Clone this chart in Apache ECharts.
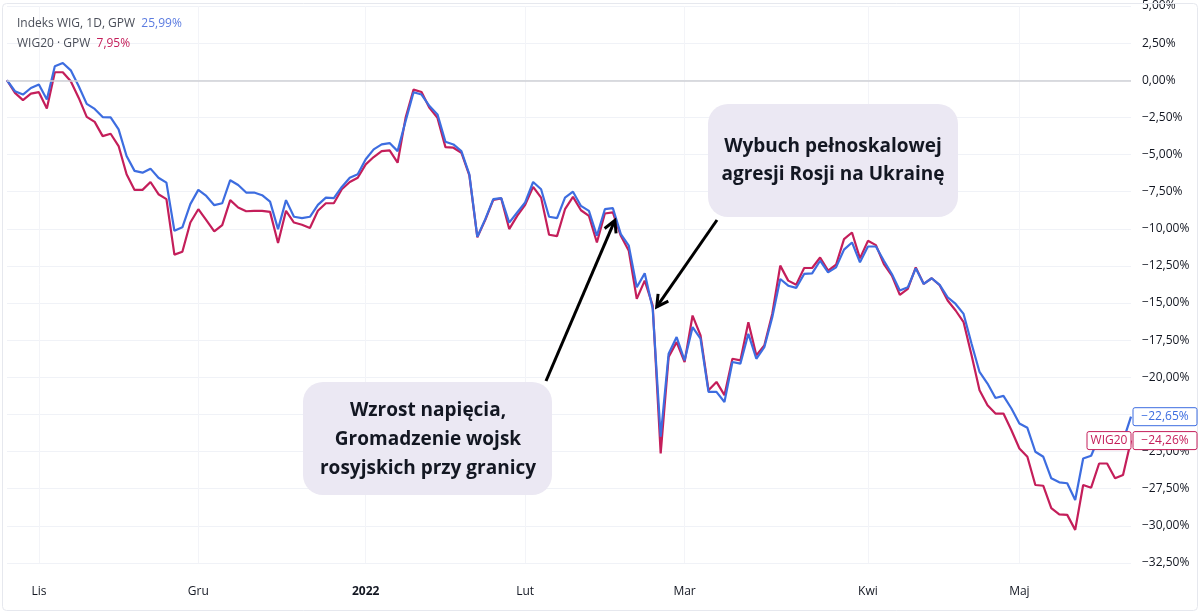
<!DOCTYPE html>
<html lang="pl">
<head>
<meta charset="UTF-8">
<title>WIG vs WIG20</title>
<script src="https://cdn.jsdelivr.net/npm/echarts@6/dist/echarts.min.js"></script>
<style>
    html, body { margin: 0; padding: 0; background: #fff; }
    #main { width: 1200px; height: 615px; }
</style>
</head>
<body>
<div id="main"></div>
<script>
    // daily % change since 26.10.2021 (trading days)
    var wig = [0, -0.74, -0.96, -0.52, -0.29, -1.3, 0.94, 1.16, 0.67, -0.4,
        -1.59, -1.93, -2.48, -2.5, -3.31, -5.1, -6.1, -6.22, -5.95, -6.56,
        -6.89, -10.13, -9.9, -8.34, -7.38, -7.79, -8.41, -8.28, -6.73, -7.05,
        -7.56, -7.56, -7.74, -8.17, -10.02, -8.07, -9.19, -9.28, -9.19, -8.39,
        -7.9, -7.94, -7.18, -6.56, -6.33, -5.32, -4.65, -4.32, -4.23, -4.77,
        -2.75, -0.81, -0.96, -1.74, -2.3, -4.14, -4.32, -4.77, -6.33, -10.54,
        -9.35, -8.0, -7.94, -9.58, -8.9, -8.23, -6.85, -7.34, -9.19, -9.28,
        -7.9, -7.5, -8.46, -8.79, -10.47, -8.68, -8.61, -10.36, -11.14, -13.94,
        -13.0, -15.39, -24.0, -18.41, -17.29, -18.86, -16.62, -17.4, -20.98, -20.98,
        -21.66, -18.97, -19.08, -17.07, -18.75, -17.97, -15.95, -13.38, -13.83, -13.98,
        -13.04, -13.0, -12.15, -12.93, -12.6, -11.4, -10.92, -12.26, -11.19, -11.19,
        -12.15, -13.04, -14.16, -13.94, -12.66, -13.71, -13.33, -13.78, -14.61, -15.06,
        -15.73, -17.74, -19.64, -20.42, -21.39, -21.25, -22.1, -23.11, -23.4, -25.01,
        -25.35, -26.8, -27.07, -27.13, -28.26, -25.46, -25.28, -24.0, -24.1, -24.5,
        -24.3, -22.65];
    var wig20 = [0, -0.85, -1.34, -0.9, -0.8, -1.9, 0.54, 0.54, -0.07, -1.19,
        -2.46, -2.8, -3.76, -3.6, -4.43, -6.33, -7.38, -7.38, -6.85, -7.67,
        -8.0, -11.74, -11.54, -9.58, -8.68, -9.42, -10.18, -9.75, -8.07, -8.57,
        -8.82, -8.79, -8.79, -8.86, -10.96, -8.79, -9.58, -9.73, -9.95, -8.79,
        -8.28, -8.28, -7.34, -6.85, -6.56, -5.66, -5.17, -4.77, -4.72, -5.55,
        -2.53, -0.63, -0.79, -1.86, -2.53, -4.5, -4.54, -4.88, -6.4, -10.58,
        -9.4, -8.05, -7.95, -10.02, -9.13, -8.39, -7.18, -7.9, -10.4, -10.49,
        -8.68, -7.85, -8.75, -9.13, -10.92, -8.97, -8.9, -10.47, -11.48, -14.72,
        -13.49, -15.17, -25.12, -18.63, -17.63, -18.97, -15.84, -17.18, -20.87, -20.31,
        -21.2, -18.75, -18.86, -16.29, -18.52, -17.85, -15.72, -12.48, -13.49, -13.76,
        -12.64, -12.64, -11.93, -12.82, -12.42, -10.7, -10.25, -11.99, -10.81, -11.1,
        -12.37, -13.15, -14.45, -14.05, -12.6, -13.71, -13.33, -13.8, -14.83, -15.5,
        -16.29, -18.52, -20.87, -21.88, -22.44, -22.44, -23.56, -24.79, -25.35, -27.25,
        -27.3, -28.81, -29.22, -29.26, -30.27, -27.25, -27.43, -25.8, -25.8, -26.8,
        -26.58, -24.26];
    var days = wig.map(function (v, i) { return i; });
    // first trading day of each month -> label
    var monthLabels = {4: 'Lis', 24: 'Gru', 45: '2022', 65: 'Lut', 85: 'Mar', 108: 'Kwi', 127: 'Maj'};

    var blue = '#3d6de0';
    var red = '#c41e5a';
    var font = '"Open Sans", "Noto Sans", sans-serif';

    function pct(v) {
        return (v < 0 ? '\u2212' : '') + Math.abs(v).toFixed(2).replace('.', ',') + '%';
    }

    var myChart = echarts.init(document.getElementById('main'));
    var option = {
        animation: false,
        backgroundColor: '#fff',
        textStyle: { fontFamily: font },
        title: {
            left: 12,
            top: 9,
            text: '{n|Indeks WIG, 1D, GPW}  {b|25,99%}\n{n|WIG20 · GPW}  {r|7,95%}',
            textStyle: {
                fontFamily: font,
                fontWeight: 'normal',
                fontSize: 12,
                lineHeight: 20,
                rich: {
                    n: { color: '#4a4e59', fontSize: 12, lineHeight: 20, fontFamily: font },
                    b: { color: '#5b7be0', fontSize: 12, lineHeight: 20, fontFamily: font },
                    r: { color: red, fontSize: 12, lineHeight: 20, fontFamily: font }
                }
            }
        },
        grid: { left: 7, right: 69, top: 5, bottom: 52 },
        xAxis: {
            type: 'category',
            data: days,
            boundaryGap: false,
            axisLine: { show: false },
            axisTick: { show: false },
            axisLabel: {
                margin: 23,
                color: '#131722',
                fontSize: 12,
                interval: function (i) { return monthLabels[i] !== undefined; },
                formatter: function (v) {
                    var t = monthLabels[v];
                    if (t === '2022') return '{y|2022}';
                    return t || '';
                },
                rich: { y: { fontWeight: 'bold', fontSize: 12, color: '#131722', fontFamily: font } }
            },
            splitLine: {
                show: true,
                interval: function (i) { return monthLabels[i] !== undefined; },
                lineStyle: { color: '#f3f4f8', width: 1 }
            }
        },
        yAxis: {
            type: 'value',
            position: 'right',
            min: -32.5,
            max: 5,
            interval: 2.5,
            axisLine: { show: false },
            axisTick: { show: false },
            axisLabel: {
                margin: 11,
                align: 'left',
                color: '#131722',
                fontSize: 12,
                formatter: pct
            },
            splitLine: { lineStyle: { color: '#f0f2f7', width: 1 } }
        },
        series: [
            {
                name: 'WIG20',
                type: 'line',
                data: wig20,
                showSymbol: false,
                lineStyle: { color: red, width: 2.2 },
                itemStyle: { color: red },
                markLine: {
                    silent: true,
                    symbol: 'none',
                    label: { show: false },
                    lineStyle: { color: '#cfd1d6', width: 1.5, type: 'solid' },
                    data: [{ yAxis: 0 }]
                }
            },
            {
                name: 'WIG',
                type: 'line',
                data: wig,
                showSymbol: false,
                lineStyle: { color: blue, width: 2.2 },
                itemStyle: { color: blue }
            }
        ]
    };
    myChart.setOption(option);

    // annotations and price tags
    var last = wig.length - 1;
    var yb = myChart.convertToPixel({ yAxisIndex: 0 }, wig[last]);
    var yr = myChart.convertToPixel({ yAxisIndex: 0 }, wig20[last]);
    var tip1 = myChart.convertToPixel({ gridIndex: 0 }, [81, wig[81]]);
    var tip2 = myChart.convertToPixel({ gridIndex: 0 }, [76, wig20[76]]);

    function arrow(x1, y1, x2, y2) {
        var a = Math.atan2(y1 - y2, x1 - x2);
        var len = 13, spread = 0.5;
        return [
            { type: 'line', z: 50, shape: { x1: x1, y1: y1, x2: x2, y2: y2 },
              style: { stroke: '#000', lineWidth: 3 } },
            { type: 'polyline', z: 50,
              shape: { points: [
                  [x2 + len * Math.cos(a + spread), y2 + len * Math.sin(a + spread)],
                  [x2, y2],
                  [x2 + len * Math.cos(a - spread), y2 + len * Math.sin(a - spread)]] },
              style: { stroke: '#000', lineWidth: 3, fill: null } }
        ];
    }

    function tag(x, y, w, text, color) {
        return [
            { type: 'rect', z: 100, shape: { x: x, y: y - 9, width: w, height: 18, r: 2 },
              style: { fill: '#fff', stroke: color, lineWidth: 1 } },
            { type: 'text', z: 101, x: x + w / 2, y: y,
              style: { text: text, fill: color, font: '12px ' + font, align: 'center', verticalAlign: 'middle' } }
        ];
    }

    var els = [
        { type: 'rect', z: 1, shape: { x: 2.5, y: 3.5, width: 1195, height: 607, r: 4 },
          style: { fill: null, stroke: '#e6e8ee', lineWidth: 1 } },
        { type: 'rect', z: 40, shape: { x: 708, y: 104, width: 250, height: 113, r: 20 },
          style: { fill: '#ebe8f3' } },
        { type: 'text', z: 41, x: 833, y: 161,
          style: { text: 'Wybuch pełnoskalowej\nagresji Rosji na Ukrainę', fill: '#131722',
                   font: 'bold 19px ' + font, lineHeight: 28, align: 'center', verticalAlign: 'middle' } },
        { type: 'rect', z: 40, shape: { x: 303, y: 382, width: 249, height: 113, r: 20 },
          style: { fill: '#ebe8f3' } },
        { type: 'text', z: 41, x: 428, y: 440,
          style: { text: 'Wzrost napięcia,\nGromadzenie wojsk\nrosyjskich przy granicy', fill: '#131722',
                   font: 'bold 19px ' + font, lineHeight: 29, align: 'center', verticalAlign: 'middle' } }
    ];
    els = els.concat(arrow(717, 220, tip1[0] + 4, tip1[1] - 2));
    els = els.concat(arrow(546, 381, tip2[0] + 2, tip2[1] + 8));
    els = els.concat(tag(1133, yb, 64, pct(wig[last]), blue));
    els = els.concat(tag(1133, yr, 64, pct(wig20[last]), red));
    els = els.concat(tag(1087, yr, 44, 'WIG20', red));

    myChart.setOption({ graphic: { elements: els } });
</script>
</body>
</html>
